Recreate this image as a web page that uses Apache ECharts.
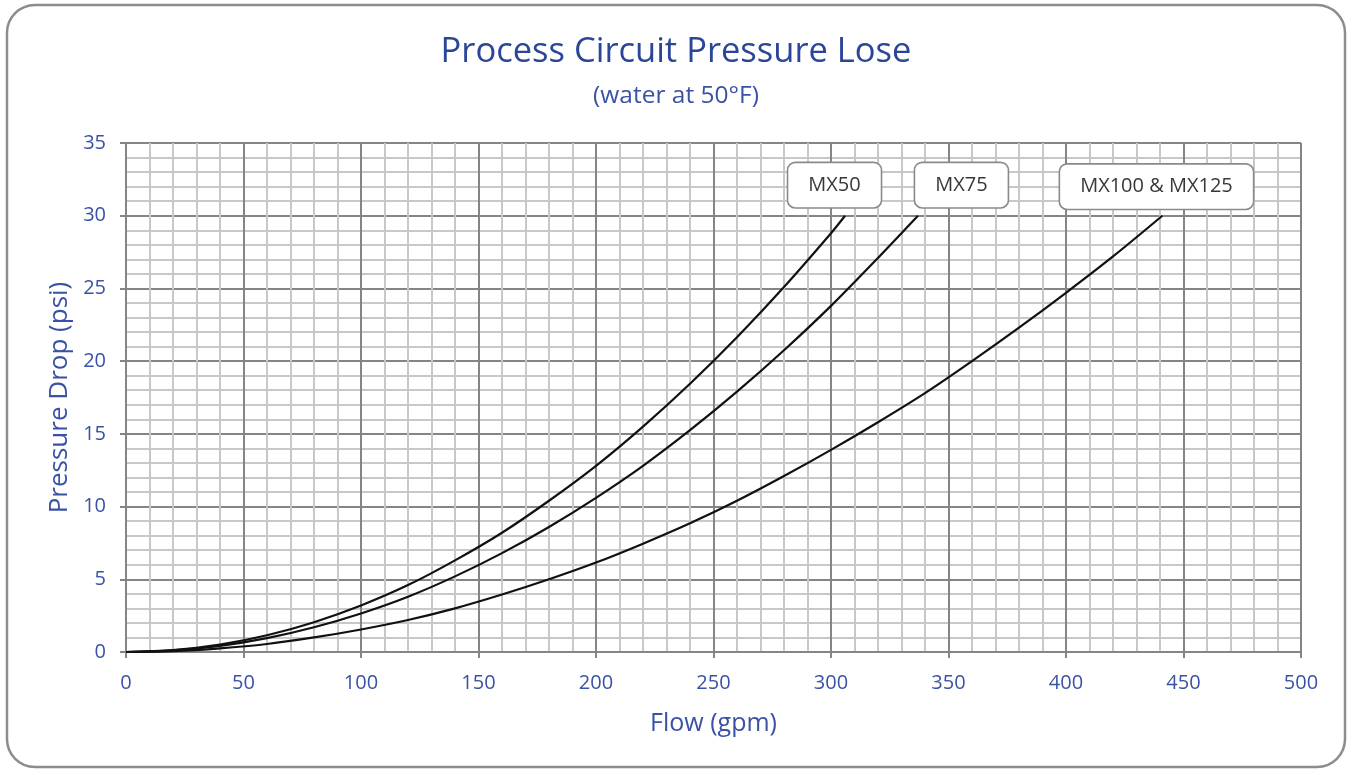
<!DOCTYPE html>
<html>
<head>
<meta charset="utf-8">
<script src="https://cdn.jsdelivr.net/npm/echarts@6/dist/echarts.min.js"></script>
<style>
html,body{margin:0;padding:0;background:#fff;}
#chart{width:1352px;height:771px;}
</style>
</head>
<body>
<div id="chart"></div>
<script>
// ---- data ----
const mx50Flow = [0, 20, 40, 60, 80, 100, 120, 140, 160, 180, 200, 220, 240, 260, 280, 300, 306];
const mx50Psi  = [0, 0.13, 0.51, 1.15, 2.05, 3.2, 4.6, 6.3, 8.2, 10.4, 12.8, 15.5, 18.45, 21.65, 25.1, 28.8, 30.0];

const mx75Flow = [0, 20, 40, 60, 80, 100, 120, 140, 160, 180, 200, 220, 240, 260, 280, 300, 320, 337];
const mx75Psi  = [0, 0.11, 0.42, 0.95, 1.7, 2.65, 3.8, 5.2, 6.8, 8.6, 10.6, 12.8, 15.25, 17.9, 20.75, 23.8, 27.1, 30.0];

const mx100Flow = [0, 20, 40, 60, 80, 100, 120, 140, 160, 180, 200, 220, 240, 260, 280, 300, 320, 340, 360, 380, 400, 420, 441];
const mx100Psi  = [0, 0.06, 0.25, 0.55, 1.0, 1.55, 2.2, 3.0, 3.95, 5.0, 6.15, 7.45, 8.85, 10.4, 12.1, 13.9, 15.8, 17.8, 20.0, 22.3, 24.7, 27.2, 30.0];

const seriesNames = ['MX50', 'MX75', 'MX100 & MX125'];
const labelFlow = [301.5, 355.5, 438.5];
const labelPsi  = [32.1, 32.1, 32.0];

const xTicks = [0, 50, 100, 150, 200, 250, 300, 350, 400, 450, 500];
const yTicks = [0, 5, 10, 15, 20, 25, 30, 35];

const titleText = 'Process Circuit Pressure Lose';
const subTitleText = '(water at 50°F)';
const xName = 'Flow (gpm)';
const yName = 'Pressure Drop (psi)';

// ---- build ----
const pairs = (xs, ys) => xs.map((x, i) => [x, ys[i]]);
const curves = [pairs(mx50Flow, mx50Psi), pairs(mx75Flow, mx75Psi), pairs(mx100Flow, mx100Psi)];

const FONT = "'Open Sans', 'Noto Sans', sans-serif";
const BLUE = '#3a52a6';
const MAJOR = '#858585';
const MINOR = '#c8c8c8';

const chart = echarts.init(document.getElementById('chart'), null, {renderer: 'canvas'});

const lineSeries = curves.map((d, i) => ({
  name: seriesNames[i],
  type: 'line',
  data: d,
  smooth: 0.3,
  showSymbol: false,
  symbol: 'none',
  lineStyle: {color: '#111', width: 2.2},
  z: 5,
  silent: true
}));

const labelSeries = {
  type: 'scatter',
  data: labelFlow.map((x, i) => ({value: [x, labelPsi[i]], name: seriesNames[i]})),
  symbolSize: 1,
  itemStyle: {opacity: 0},
  z: 10,
  silent: true,
  label: {
    show: true,
    position: 'inside',
    align: 'center',
    verticalAlign: 'middle',
    formatter: p => p.name,
    fontFamily: FONT,
    fontSize: 20,
    lineHeight: 22,
    color: '#383838',
    opacity: 1,
    backgroundColor: '#fff',
    borderColor: '#8a8a8a',
    borderWidth: 1.6,
    borderRadius: 7,
    padding: [11, 20, 11, 20]
  }
};

chart.setOption({
  animation: false,
  backgroundColor: '#fff',
  graphic: [{
    type: 'rect',
    shape: {x: 7, y: 5, width: 1338, height: 762, r: 28},
    style: {fill: 'none', stroke: '#8c8c8c', lineWidth: 2.5},
    z: -10,
    silent: true
  }],
  title: {
    text: titleText,
    subtext: subTitleText,
    left: 'center',
    top: 30,
    itemGap: 14,
    textStyle: {fontFamily: FONT, fontSize: 34.5, fontWeight: 'normal', color: '#2b4699'},
    subtextStyle: {fontFamily: FONT, fontSize: 24.5, color: BLUE}
  },
  grid: {left: 126, right: 51, top: 143, bottom: 119, containLabel: false},
  xAxis: {
    type: 'value',
    min: xTicks[0],
    max: xTicks[xTicks.length - 1],
    interval: 50,
    name: xName,
    nameLocation: 'middle',
    nameGap: 59,
    nameTextStyle: {fontFamily: FONT, fontSize: 25, color: BLUE},
    axisLine: {show: true, onZero: false, lineStyle: {color: MAJOR, width: 2}},
    axisTick: {show: true, length: 6, lineStyle: {color: MAJOR, width: 2}},
    axisLabel: {fontFamily: FONT, fontSize: 20, color: BLUE, margin: 21},
    splitLine: {show: true, lineStyle: {color: MAJOR, width: 2}},
    minorTick: {show: false, splitNumber: 5},
    minorSplitLine: {show: true, lineStyle: {color: MINOR, width: 2}}
  },
  yAxis: {
    type: 'value',
    min: yTicks[0],
    max: yTicks[yTicks.length - 1],
    interval: 5,
    name: yName,
    nameLocation: 'middle',
    nameGap: 53,
    nameTextStyle: {fontFamily: FONT, fontSize: 26, color: BLUE},
    axisLine: {show: true, onZero: false, lineStyle: {color: MAJOR, width: 2}},
    axisTick: {show: true, length: 6, lineStyle: {color: MAJOR, width: 2}},
    axisLabel: {fontFamily: FONT, fontSize: 20, color: BLUE, margin: 20},
    splitLine: {show: true, lineStyle: {color: MAJOR, width: 2}},
    minorTick: {show: false, splitNumber: 5},
    minorSplitLine: {show: true, lineStyle: {color: MINOR, width: 2}}
  },
  series: [...lineSeries, labelSeries]
});
</script>
</body>
</html>
